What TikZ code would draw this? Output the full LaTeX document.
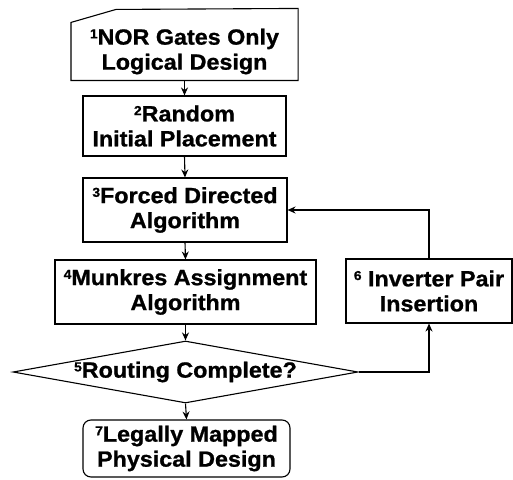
\documentclass[tikz,border=0pt]{standalone}
\usepackage{fontspec}
\setmainfont{Liberation Sans}[FakeStretch=1.06, BoldFeatures={FakeBold=1.0}]
\usetikzlibrary{shapes.geometric,arrows.meta,calc}
\newcommand{\supnum}[1]{{\fontsize{13}{13}\selectfont\raisebox{6.3pt}{#1}}}
\begin{document}
\begin{tikzpicture}[x=1pt,y=1pt,
  every node/.style={font=\bfseries\fontsize{22}{25}\selectfont, align=center, inner sep=0pt, line width=1.1pt},
  boxst/.style={draw, rectangle},
  arr/.style={-{Stealth[length=8pt,width=7pt]}, line width=1.1pt}]
\useasboundingbox (0,0) rectangle (513,479);
\node[minimum width=226, minimum height=57] (n1) at (184.5,427.5) {\supnum{1}NOR Gates Only\\Logical Design};
\draw[line width=1.1pt] (n1.south west) -- (n1.north west) -- ($(n1.north west)+(45,13)$) -- ($(n1.north east)+(0,14)$) -- (n1.south east) -- cycle;
\node[boxst, minimum width=203, minimum height=60] (n2) at (184.5,353) {\supnum{2}Random\\Initial Placement};
\node[boxst, minimum width=204, minimum height=64] (n3) at (185,269) {\supnum{3}Forced Directed\\Algorithm};
\node[boxst, minimum width=261, minimum height=64] (n4) at (185.5,187) {\supnum{4}Munkres Assignment\\Algorithm};
\node[boxst, minimum width=166, minimum height=64] (n6) at (429,188) {\supnum{6} Inverter Pair\\Insertion};
\node[draw, diamond, aspect=5.56, minimum width=345, minimum height=62] (n5) at (185.5,107) {\supnum{5}Routing Complete?};
\node[boxst, rounded corners=8pt, minimum width=207, minimum height=57] (n7) at (186.5,30.5) {\supnum{7}Legally Mapped\\Physical Design};
\draw[arr] (n1.south) -- (n2.north);
\draw[arr] (n2.south) -- (n3.north);
\draw[arr] (n3.south) -- (n4.north);
\draw[arr] (n4.south) -- (n5.north);
\draw[arr] (n5.south) -- (n7.north);
\draw[arr] (n5.east) -| (n6.south);
\draw[arr] (n6.north) |- (n3.east);
\end{tikzpicture}
\end{document}
